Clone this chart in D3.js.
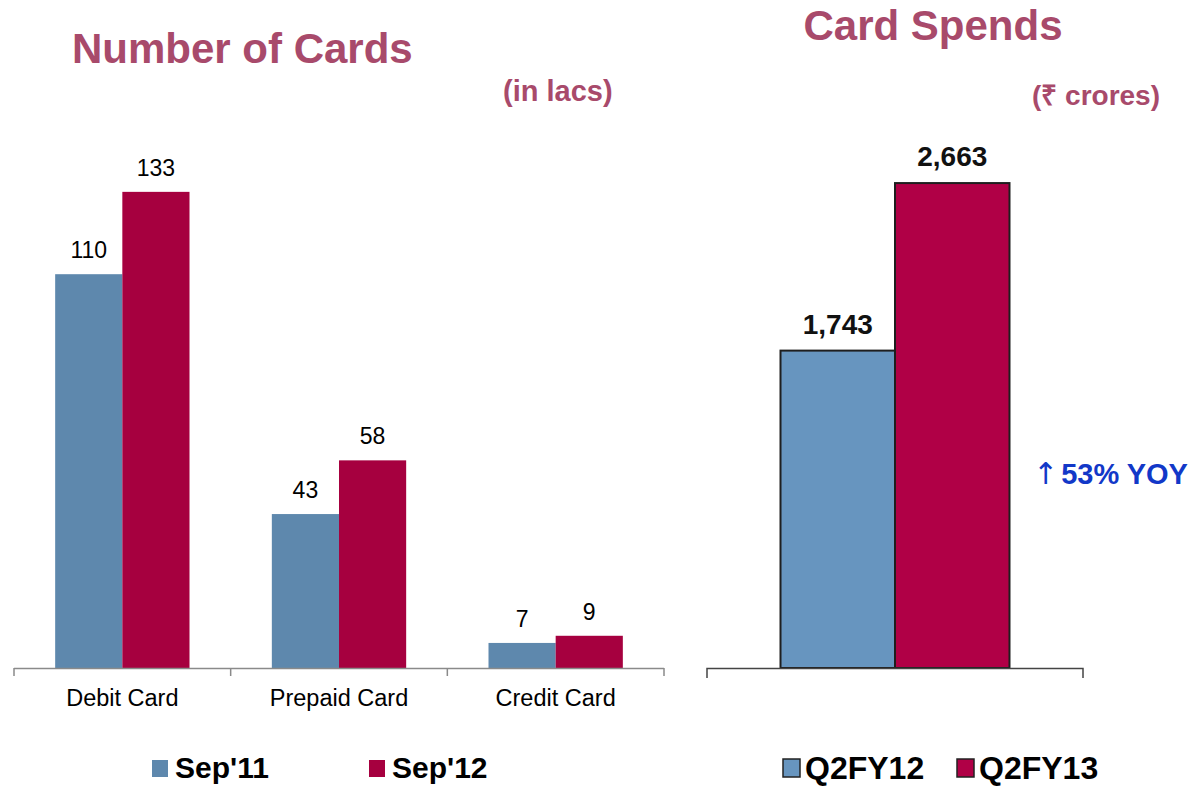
<!DOCTYPE html>
<html>
<head>
<meta charset="utf-8">
<script src="https://cdn.jsdelivr.net/npm/d3@7"></script>
<style>
  body { margin: 0; background: #fff; }
  text { font-family: "Liberation Sans", Arial, sans-serif; }
</style>
</head>
<body>
<script>
const w = 1192;
const h = 786;

// left chart data (in lacs)
const cardTypes = ["Debit Card", "Prepaid Card", "Credit Card"];
const cardSeries = ["Sep'11", "Sep'12"];
const sep11 = [110, 43, 7];
const sep12 = [133, 58, 9];

// right chart data (crores)
const spendSeries = ["Q2FY12", "Q2FY13"];
const spendValues = [1743, 2663];

const titleColor = "#a84a6b";
const leftColors = ["#5e88ad", "#a6003f"];
const rightColors = ["#6795bf", "#b00046"];

var svg = d3.select("body")
            .append("svg")
            .attr("width", w)
            .attr("height", h);

// ---------- left chart ----------
const base = 668;

const x0 = d3.scaleBand()
             .domain(cardTypes)
             .range([14, 664])
             .paddingInner(0.38)
             .paddingOuter(0.19);

const x1 = d3.scaleBand()
             .domain(cardSeries)
             .range([0, x0.bandwidth()]);

const yL = d3.scaleLinear()
             .domain([0, 150])
             .range([base, base - 150 * 3.58]);

const color = d3.scaleOrdinal().domain(cardSeries).range(leftColors);

const rows = cardTypes.map((c, i) => ({cat: c, vals: [
  {s: cardSeries[0], v: sep11[i]},
  {s: cardSeries[1], v: sep12[i]}
]}));

const left = svg.append("g");

const groups = left.selectAll("g.cat")
                   .data(rows)
                   .enter()
                   .append("g")
                   .attr("class", "cat")
                   .attr("transform", d => "translate(" + x0(d.cat) + ",0)");

groups.selectAll("rect")
      .data(d => d.vals)
      .enter()
      .append("rect")
      .attr("x", d => x1(d.s))
      .attr("width", x1.bandwidth())
      .attr("y", d => yL(d.v))
      .attr("height", d => base - yL(d.v))
      .attr("fill", d => color(d.s));

groups.selectAll("text")
      .data(d => d.vals)
      .enter()
      .append("text")
      .attr("x", d => x1(d.s) + x1.bandwidth() / 2)
      .attr("y", d => yL(d.v) - 16)
      .attr("text-anchor", "middle")
      .attr("font-size", 23)
      .attr("fill", "#000")
      .text(d => d.v);

// axis line with ticks at band boundaries
const step = x0.step();
const tickXs = cardTypes.map(c => x0(c) - step * x0.paddingInner() / 2);
tickXs.push(x0.range()[1]);

left.append("line")
    .attr("x1", x0.range()[0]).attr("x2", x0.range()[1])
    .attr("y1", base + 0.5).attr("y2", base + 0.5)
    .attr("stroke", "#8a8a8a").attr("stroke-width", 1.5);

left.selectAll("line.tick")
    .data(tickXs)
    .enter()
    .append("line")
    .attr("class", "tick")
    .attr("x1", d => d).attr("x2", d => d)
    .attr("y1", base).attr("y2", base + 8)
    .attr("stroke", "#8a8a8a").attr("stroke-width", 1.5);

left.selectAll("text.cat")
    .data(cardTypes)
    .enter()
    .append("text")
    .attr("class", "cat")
    .attr("x", d => x0(d) + x0.bandwidth() / 2)
    .attr("y", 706)
    .attr("text-anchor", "middle")
    .attr("font-size", 23.5)
    .text(d => d);

svg.append("text")
   .attr("x", 72).attr("y", 63)
   .attr("font-size", 42).attr("font-weight", "bold")
   .attr("fill", titleColor)
   .text("Number of Cards");

svg.append("text")
   .attr("x", 503).attr("y", 101)
   .attr("font-size", 29).attr("font-weight", "bold")
   .attr("fill", titleColor)
   .text("(in lacs)");

// left legend
const legX = [152, 369];
cardSeries.forEach((s, i) => {
  svg.append("rect")
     .attr("x", legX[i]).attr("y", 760)
     .attr("width", 16).attr("height", 17)
     .attr("fill", color(s));
  svg.append("text")
     .attr("x", legX[i] + 23).attr("y", 778)
     .attr("font-size", 30).attr("font-weight", "bold")
     .text(s);
});

// ---------- right chart ----------
const xs = d3.scaleBand()
             .domain(spendSeries)
             .range([707, 1083])
             .paddingInner(0)
             .paddingOuter(0.642);

const yR = d3.scaleLinear()
             .domain([0, 3000])
             .range([base, base - 3000 * 0.1821]);

const colorR = d3.scaleOrdinal().domain(spendSeries).range(rightColors);

const spend = spendSeries.map((s, i) => ({s: s, v: spendValues[i]}));

const right = svg.append("g");

right.selectAll("rect")
     .data(spend)
     .enter()
     .append("rect")
     .attr("x", d => xs(d.s))
     .attr("width", xs.bandwidth())
     .attr("y", d => yR(d.v))
     .attr("height", d => base - yR(d.v))
     .attr("fill", d => colorR(d.s))
     .attr("stroke", "#1e1e1e")
     .attr("stroke-width", 2);

right.selectAll("text.val")
     .data(spend)
     .enter()
     .append("text")
     .attr("class", "val")
     .attr("x", d => xs(d.s) + xs.bandwidth() / 2)
     .attr("y", d => yR(d.v) - 17)
     .attr("text-anchor", "middle")
     .attr("font-size", 28).attr("font-weight", "bold")
     .attr("fill", "#111")
     .text(d => d3.format(",")(d.v));

right.append("path")
     .attr("d", "M" + xs.range()[0] + "," + (base + 10) + "V" + (base + 0.5) +
                "H" + xs.range()[1] + "V" + (base + 10))
     .attr("fill", "none")
     .attr("stroke", "#444").attr("stroke-width", 1.5);

svg.append("text")
   .attr("x", 933).attr("y", 40)
   .attr("text-anchor", "middle")
   .attr("font-size", 42).attr("font-weight", "bold")
   .attr("fill", titleColor)
   .text("Card Spends");

svg.append("text")
   .attr("x", 1160).attr("y", 105)
   .attr("text-anchor", "end")
   .attr("font-size", 28).attr("font-weight", "bold")
   .attr("fill", titleColor)
   .text("(\u20B9 crores)");

const yoy = svg.append("text")
   .attr("x", 1033).attr("y", 484)
   .attr("font-size", 29).attr("font-weight", "bold")
   .attr("fill", "#1238c8");
yoy.append("tspan")
   .attr("font-family", "DejaVu Sans")
   .attr("font-weight", "normal")
   .attr("font-size", 30)
   .text("\u2191");
yoy.append("tspan")
   .attr("dx", 3)
   .text("53% YOY");

// right legend
const legRX = [783, 957];
spendSeries.forEach((s, i) => {
  svg.append("rect")
     .attr("x", legRX[i]).attr("y", 759)
     .attr("width", 17).attr("height", 18)
     .attr("fill", colorR(s))
     .attr("stroke", "#222").attr("stroke-width", 1.5);
  svg.append("text")
     .attr("x", legRX[i] + 22).attr("y", 779)
     .attr("font-size", 32).attr("font-weight", "bold")
     .text(s);
});
</script>
</body>
</html>
